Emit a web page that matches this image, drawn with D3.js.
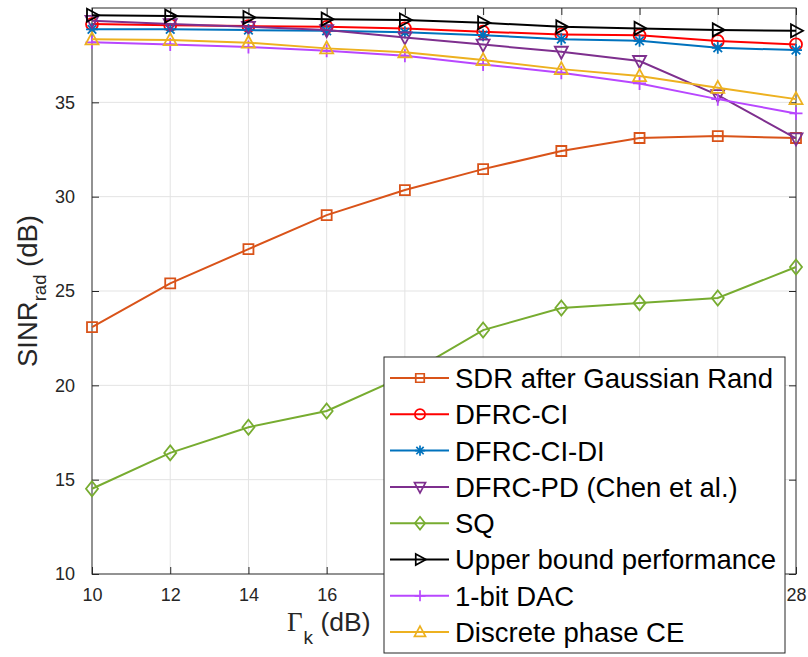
<!DOCTYPE html>
<html><head><meta charset="utf-8">
<script src="https://cdn.jsdelivr.net/npm/d3@7"></script>
<style>body{margin:0;background:#fff}svg{display:block}</style>
</head><body><svg id="c" width="808" height="657"></svg>
<script>
// ---- data ----
const gammaK = [10, 12, 14, 16, 18, 20, 22, 24, 26, 28];
const sdrGauss   = [23.09, 25.40, 27.22, 29.02, 30.35, 31.46, 32.42, 33.11, 33.21, 33.11];
const dfrcCI     = [39.15, 39.09, 39.04, 39.00, 38.92, 38.74, 38.60, 38.55, 38.25, 38.07];
const dfrcCIDI   = [38.87, 38.87, 38.83, 38.79, 38.71, 38.56, 38.35, 38.26, 37.89, 37.77];
const dfrcPD     = [39.32, 39.15, 39.00, 38.83, 38.44, 38.06, 37.68, 37.19, 35.38, 33.09];
const sq         = [14.52, 16.42, 17.78, 18.64, 20.50, 22.93, 24.10, 24.37, 24.63, 26.27];
const upperBound = [39.62, 39.57, 39.50, 39.41, 39.36, 39.22, 39.00, 38.92, 38.84, 38.79];
const oneBitDAC  = [38.18, 38.07, 37.93, 37.73, 37.47, 37.01, 36.57, 36.00, 35.17, 34.41];
const discPhase  = [38.34, 38.30, 38.16, 37.86, 37.65, 37.24, 36.76, 36.39, 35.77, 35.17];

const seriesNames = ["SDR after Gaussian Rand", "DFRC-CI", "DFRC-CI-DI", "DFRC-PD (Chen et al.)",
  "SQ", "Upper bound performance", "1-bit DAC", "Discrete phase CE"];
const seriesValues = [sdrGauss, dfrcCI, dfrcCIDI, dfrcPD, sq, upperBound, oneBitDAC, discPhase];
const seriesColors = ["#D95319", "#FF0000", "#0072BD", "#7E2F8E", "#77AC30", "#000000", "#B847FF", "#EDB120"];
const seriesMarkers = ["square", "circle", "asterisk", "triDown", "diamond", "triRight", "plus", "triUp"];

const xTicks = [10, 12, 14, 16, 18, 20, 22, 24, 26, 28];
const yTicks = [10, 15, 20, 25, 30, 35];

// ---- layout ----
const svg = d3.select("#c");
const L = 92, R = 796, T = 8, B = 574;
const x = d3.scaleLinear().domain([10, 28]).range([L, R]);
const y = d3.scaleLinear().domain([10, 40]).range([B, T]);
const axisColor = "#262626";
const sans = "'Liberation Sans', Arial, Helvetica, sans-serif";
const legendBox = {x: 384, y: 357, w: 401, h: 296};

svg.append("rect").attr("width", 808).attr("height", 657).attr("fill", "#fff");

// grid
const grid = svg.append("g").attr("stroke", "#e3e3e3").attr("stroke-width", 1);
xTicks.filter(t => t > 10 && t < 28).forEach(t => {
  grid.append("line").attr("x1", x(t)).attr("x2", x(t)).attr("y1", T).attr("y2", B);
});
yTicks.filter(t => t > 10).forEach(t => {
  grid.append("line").attr("x1", L).attr("x2", R).attr("y1", y(t)).attr("y2", y(t));
});

// axes using d3 axis generators (ticks inward)
const tl = 7;
// labels hidden behind the legend box are not drawn (the legend covers them in the reference)
const xLabelFmt = t => (x(t) > legendBox.x - 10 && x(t) < legendBox.x + legendBox.w + 10) ? "" : d3.format("d")(t);
const gx = svg.append("g").attr("transform", `translate(0,${B})`)
  .call(d3.axisBottom(x).tickValues(xTicks).tickSize(-tl).tickPadding(14).tickFormat(xLabelFmt));
const gxTop = svg.append("g").attr("transform", `translate(0,${T})`)
  .call(d3.axisTop(x).tickValues(xTicks).tickSize(-tl).tickFormat(""));
const gy = svg.append("g").attr("transform", `translate(${L},0)`)
  .call(d3.axisLeft(y).tickValues(yTicks).tickSize(-tl).tickPadding(17).tickFormat(d3.format("d")));
const gyR = svg.append("g").attr("transform", `translate(${R},0)`)
  .call(d3.axisRight(y).tickValues(yTicks).tickSize(-tl).tickFormat(""));
[gx, gxTop, gy, gyR].forEach(g => {
  g.select(".domain").remove();
  g.selectAll("line").attr("stroke", axisColor).attr("stroke-width", 1);
  g.selectAll("text").attr("fill", axisColor).style("font-family", sans).style("font-size", "18px");
});
gx.selectAll("text").attr("dy", "0.71em").attr("y", 14);
svg.append("rect").attr("x", L).attr("y", T).attr("width", R - L).attr("height", B - T)
  .attr("fill", "none").attr("stroke", axisColor).attr("stroke-width", 1);

// markers
function markerPath(kind) {
  switch (kind) {
    case "square": return "M-5,-5H5V5H-5Z";
    case "circle": return "M6,0A6,6 0 1,1 -6,0A6,6 0 1,1 6,0Z";
    case "asterisk": return "M-6,0H6M0,-6V6M-4.3,-4.3L4.3,4.3M-4.3,4.3L4.3,-4.3";
    case "triDown": return "M-6.5,-5L6.5,-5L0,7Z";
    case "diamond": return "M0,-7.5L6,0L0,7.5L-6,0Z";
    case "triRight": return "M-5,-6.5L7,0L-5,6.5Z";
    case "plus": return "M-6.5,0H6.5M0,-6.5V6.5";
    case "triUp": return "M0,-7L6.5,5L-6.5,5Z";
  }
}

const line = d3.line().x((d, i) => x(gammaK[i])).y(d => y(d));
seriesValues.forEach((vals, si) => {
  const g = svg.append("g");
  g.append("path").attr("d", line(vals)).attr("fill", "none")
    .attr("stroke", seriesColors[si]).attr("stroke-width", 2);
  g.selectAll("path.m").data(vals).enter().append("path").attr("class", "m")
    .attr("transform", (d, i) => `translate(${x(gammaK[i])},${y(d)})`)
    .attr("d", markerPath(seriesMarkers[si]))
    .attr("fill", "none").attr("stroke", seriesColors[si]).attr("stroke-width", 1.8);
});

// axis labels
const yl = svg.append("text").attr("transform", "translate(37,291) rotate(-90)")
  .attr("text-anchor", "middle").attr("fill", axisColor)
  .style("font-family", sans).style("font-size", "27.5px");
yl.append("tspan").text("SINR");
yl.append("tspan").text("rad").style("font-size", "18.5px").attr("dy", 9);
yl.append("tspan").text(" (dB)").attr("dy", -9);

const xl = svg.append("text").attr("x", 287).attr("y", 631).attr("fill", axisColor)
  .style("font-family", sans).style("font-size", "26.5px");
xl.append("tspan").text("Γ").style("font-family", "'Liberation Serif', 'Times New Roman', serif").style("font-size", "27px");
xl.append("tspan").text("k").style("font-size", "19px").attr("dy", 13).attr("dx", 1);
xl.append("tspan").text(" (dB)").attr("dy", -13);

// legend
const lg = svg.append("g");
lg.append("rect").attr("x", legendBox.x).attr("y", legendBox.y).attr("width", legendBox.w).attr("height", legendBox.h)
  .attr("fill", "#fff").attr("stroke", axisColor).attr("stroke-width", 1);
seriesNames.forEach((name, i) => {
  const cy = 378 + i * 36.3;
  lg.append("line").attr("x1", 390).attr("x2", 449).attr("y1", cy).attr("y2", cy)
    .attr("stroke", seriesColors[i]).attr("stroke-width", 2);
  lg.append("path").attr("transform", `translate(420,${cy}) scale(0.85)`)
    .attr("d", markerPath(seriesMarkers[i])).attr("fill", "none")
    .attr("stroke", seriesColors[i]).attr("stroke-width", 2);
  lg.append("text").attr("x", 455).attr("y", cy).attr("dy", "0.36em")
    .attr("fill", "#000").style("font-family", sans).style("font-size", "27.5px").text(name);
});
</script></body></html>
